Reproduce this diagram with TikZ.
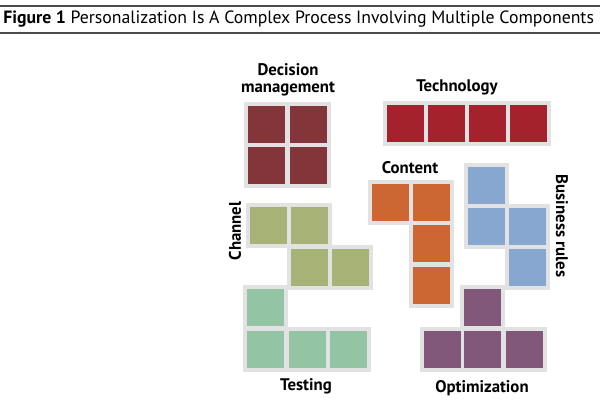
\documentclass[tikz,border=0pt]{standalone}
\usepackage{fontspec}
\setmainfont{PT Sans}
\usepackage{graphicx}
\definecolor{padgray}{HTML}{E2E2E2}
\definecolor{rulegray}{HTML}{4A4A4A}
\definecolor{decred}{HTML}{84353A}
\definecolor{techred}{HTML}{A3222C}
\definecolor{contorange}{HTML}{CC6632}
\definecolor{busblue}{HTML}{87A6D0}
\definecolor{chgreen}{HTML}{A7B276}
\definecolor{testgreen}{HTML}{93C5A5}
\definecolor{optpurple}{HTML}{82587A}
\tikzset{
  pad/.style={fill=padgray, draw=none},
  sq/.style={fill=#1, draw=none},
  lbl/.style={font=\bfseries\fontsize{12.6}{12.5}\selectfont, text=black, inner sep=0pt, align=center},
}
\newcommand{\padcell}[2]{\fill[pad] (#1-4,#2-4) rectangle (#1+41,#2+41);}
\newcommand{\colcell}[3]{\fill[sq=#3] (#1,#2) rectangle (#1+37,#2+37);}
\begin{document}
\begin{tikzpicture}[x=0.75pt,y=-0.75pt]
\useasboundingbox (0,0) rectangle (600,401);
% title rules
\draw[rulegray, line width=0.9pt] (0,6) -- (600,6);
\draw[rulegray, line width=0.9pt] (0,33) -- (600,33);
\node[anchor=west, inner sep=0pt] (title) at (3,19.5) {\resizebox{443pt}{!}{\textbf{Figure 1} Personalization Is A Complex Process Involving Multiple Components}};
% ---- gray pads ----
% Decision management
\padcell{248.3}{105.7}\padcell{290}{105.7}\padcell{248.3}{146.7}\padcell{290}{146.7}
% Technology
\padcell{386.7}{105}\padcell{428.3}{105}\padcell{469}{105}\padcell{509.7}{105}
% Content
\padcell{371.7}{184}\padcell{412.7}{184}\padcell{412.7}{225.3}\padcell{412.7}{266.7}
% Business rules
\padcell{467.7}{166.7}\padcell{467.7}{208}\padcell{509}{208}\padcell{509}{249}
% Channel
\padcell{250}{207.3}\padcell{291}{207.3}\padcell{291}{249}\padcell{332.3}{249}
% Testing
\padcell{247.3}{289.3}\padcell{247.3}{330.7}\padcell{289}{330.7}\padcell{330}{330.7}
% Optimization
\padcell{464.3}{289.3}\padcell{424}{331}\padcell{464.3}{331}\padcell{505.7}{331}
% ---- colour squares ----
\colcell{248.3}{105.7}{decred}\colcell{290}{105.7}{decred}\colcell{248.3}{146.7}{decred}\colcell{290}{146.7}{decred}
\colcell{386.7}{105}{techred}\colcell{428.3}{105}{techred}\colcell{469}{105}{techred}\colcell{509.7}{105}{techred}
\colcell{371.7}{184}{contorange}\colcell{412.7}{184}{contorange}\colcell{412.7}{225.3}{contorange}\colcell{412.7}{266.7}{contorange}
\colcell{467.7}{166.7}{busblue}\colcell{467.7}{208}{busblue}\colcell{509}{208}{busblue}\colcell{509}{249}{busblue}
\colcell{250}{207.3}{chgreen}\colcell{291}{207.3}{chgreen}\colcell{291}{249}{chgreen}\colcell{332.3}{249}{chgreen}
\colcell{247.3}{289.3}{testgreen}\colcell{247.3}{330.7}{testgreen}\colcell{289}{330.7}{testgreen}\colcell{330}{330.7}{testgreen}
\colcell{464.3}{289.3}{optpurple}\colcell{424}{331}{optpurple}\colcell{464.3}{331}{optpurple}\colcell{505.7}{331}{optpurple}
% ---- labels ----
\node[lbl] (decision) at (288,80) {Decision\\management};
\node[lbl] (technology) at (457,87) {Technology};
\node[lbl] (content) at (410,168) {Content};
\node[lbl, rotate=90] (channel) at (235,231) {Channel};
\node[lbl, rotate=-90] (business) at (562,226) {Business rules};
\node[lbl] (testing) at (306,386) {Testing};
\node[lbl] (optimization) at (482,388) {Optimization};
\end{tikzpicture}
\end{document}
